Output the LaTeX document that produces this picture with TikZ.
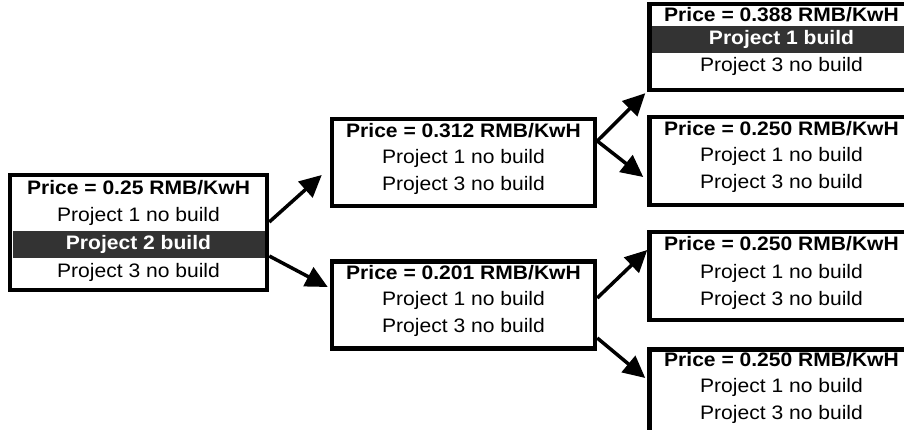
\documentclass[tikz,border=0pt]{standalone}
\usepackage{fontspec}
\setmainfont{Liberation Sans}[FakeStretch=1.08]
\usetikzlibrary{arrows.meta}
\definecolor{dark}{HTML}{333333}
\tikzset{
  box/.style={draw, line width=4.5pt, inner sep=0pt},
  price/.style={font=\fontsize{19.5}{23}\selectfont\bfseries, text height=14pt, text depth=4pt, inner sep=0pt},
  plain/.style={font=\fontsize{19.5}{23}\selectfont, text height=14pt, text depth=4pt, inner sep=0pt},
  picked/.style={price, fill=dark, text=white, minimum height=27pt},
  arr/.style={line width=3.5pt, -{Triangle[length=22pt,width=21pt]}}
}

\begin{document}
\begin{tikzpicture}[x=1pt,y=-1pt]
\useasboundingbox (0,0) rectangle (904,430);

% first year
\node[box, minimum width=257pt, minimum height=115pt] (root) at (138.5,232.5) {};
\node[price] (root-p) at (138.5,190) {Price = 0.25 RMB/KwH};
\node[plain] (root-1) at (138.5,217) {Project 1 no build};
\node[picked, minimum width=252pt] (root-2) at (138.5,244.5) {Project 2 build};
\node[plain] (root-3) at (138.5,272.5) {Project 3 no build};

% second year
\node[box, minimum width=263pt, minimum height=87pt] (hi) at (463.5,162.5) {};
\node[price] (hi-p) at (463.5,132.5) {Price = 0.312 RMB/KwH};
\node[plain] (hi-1) at (463.5,159) {Project 1 no build};
\node[plain] (hi-3) at (463.5,186) {Project 3 no build};

\node[box, minimum width=263pt, minimum height=87pt] (lo) at (463.5,305) {};
\node[price] (lo-p) at (463.5,274.5) {Price = 0.201 RMB/KwH};
\node[plain] (lo-1) at (463.5,300.5) {Project 1 no build};
\node[plain] (lo-3) at (463.5,327) {Project 3 no build};

% third year
\node[box, minimum width=264pt, minimum height=86pt] (hihi) at (781.5,47) {};
\node[price] (hihi-p) at (781.5,16.5) {Price = 0.388 RMB/KwH};
\node[picked, minimum width=259pt] (hihi-1) at (781.5,39.5) {Project 1 build};
\node[plain] (hihi-3) at (781.5,67) {Project 3 no build};

\node[box, minimum width=264pt, minimum height=88pt] (hilo) at (781.5,161) {};
\node[price] (hilo-p) at (781.5,130.5) {Price = 0.250 RMB/KwH};
\node[plain] (hilo-1) at (781.5,157) {Project 1 no build};
\node[plain] (hilo-3) at (781.5,184) {Project 3 no build};

\node[box, minimum width=264pt, minimum height=88pt] (lohi) at (781.5,276) {};
\node[price] (lohi-p) at (781.5,246) {Price = 0.250 RMB/KwH};
\node[plain] (lohi-1) at (781.5,273) {Project 1 no build};
\node[plain] (lohi-3) at (781.5,300) {Project 3 no build};

\node[box, minimum width=264pt, minimum height=88pt] (lolo) at (781.5,393.5) {};
\node[price] (lolo-p) at (781.5,361.5) {Price = 0.250 RMB/KwH};
\node[plain] (lolo-1) at (781.5,387.5) {Project 1 no build};
\node[plain] (lolo-3) at (781.5,414) {Project 3 no build};

% branches
\draw[arr] ([yshift=10.5pt]root.east) -- ([xshift=-8pt,yshift=-12.5pt]hi.west);
\draw[arr] ([yshift=-23.5pt]root.east) -- ([xshift=-2pt,yshift=18pt]lo.west);
\draw[arr] ([yshift=21.5pt]hi.east) -- ([xshift=-2pt,yshift=-1pt]hihi.south west);
\draw[arr] ([yshift=21.5pt]hi.east) -- ([xshift=-4pt,yshift=-16pt]hilo.west);
\draw[arr] ([yshift=7pt]lo.east) -- ([yshift=26pt]lohi.west);
\draw[arr] ([yshift=-33pt]lo.east) -- ([xshift=-2pt,yshift=15.5pt]lolo.west);
\end{tikzpicture}
\end{document}
